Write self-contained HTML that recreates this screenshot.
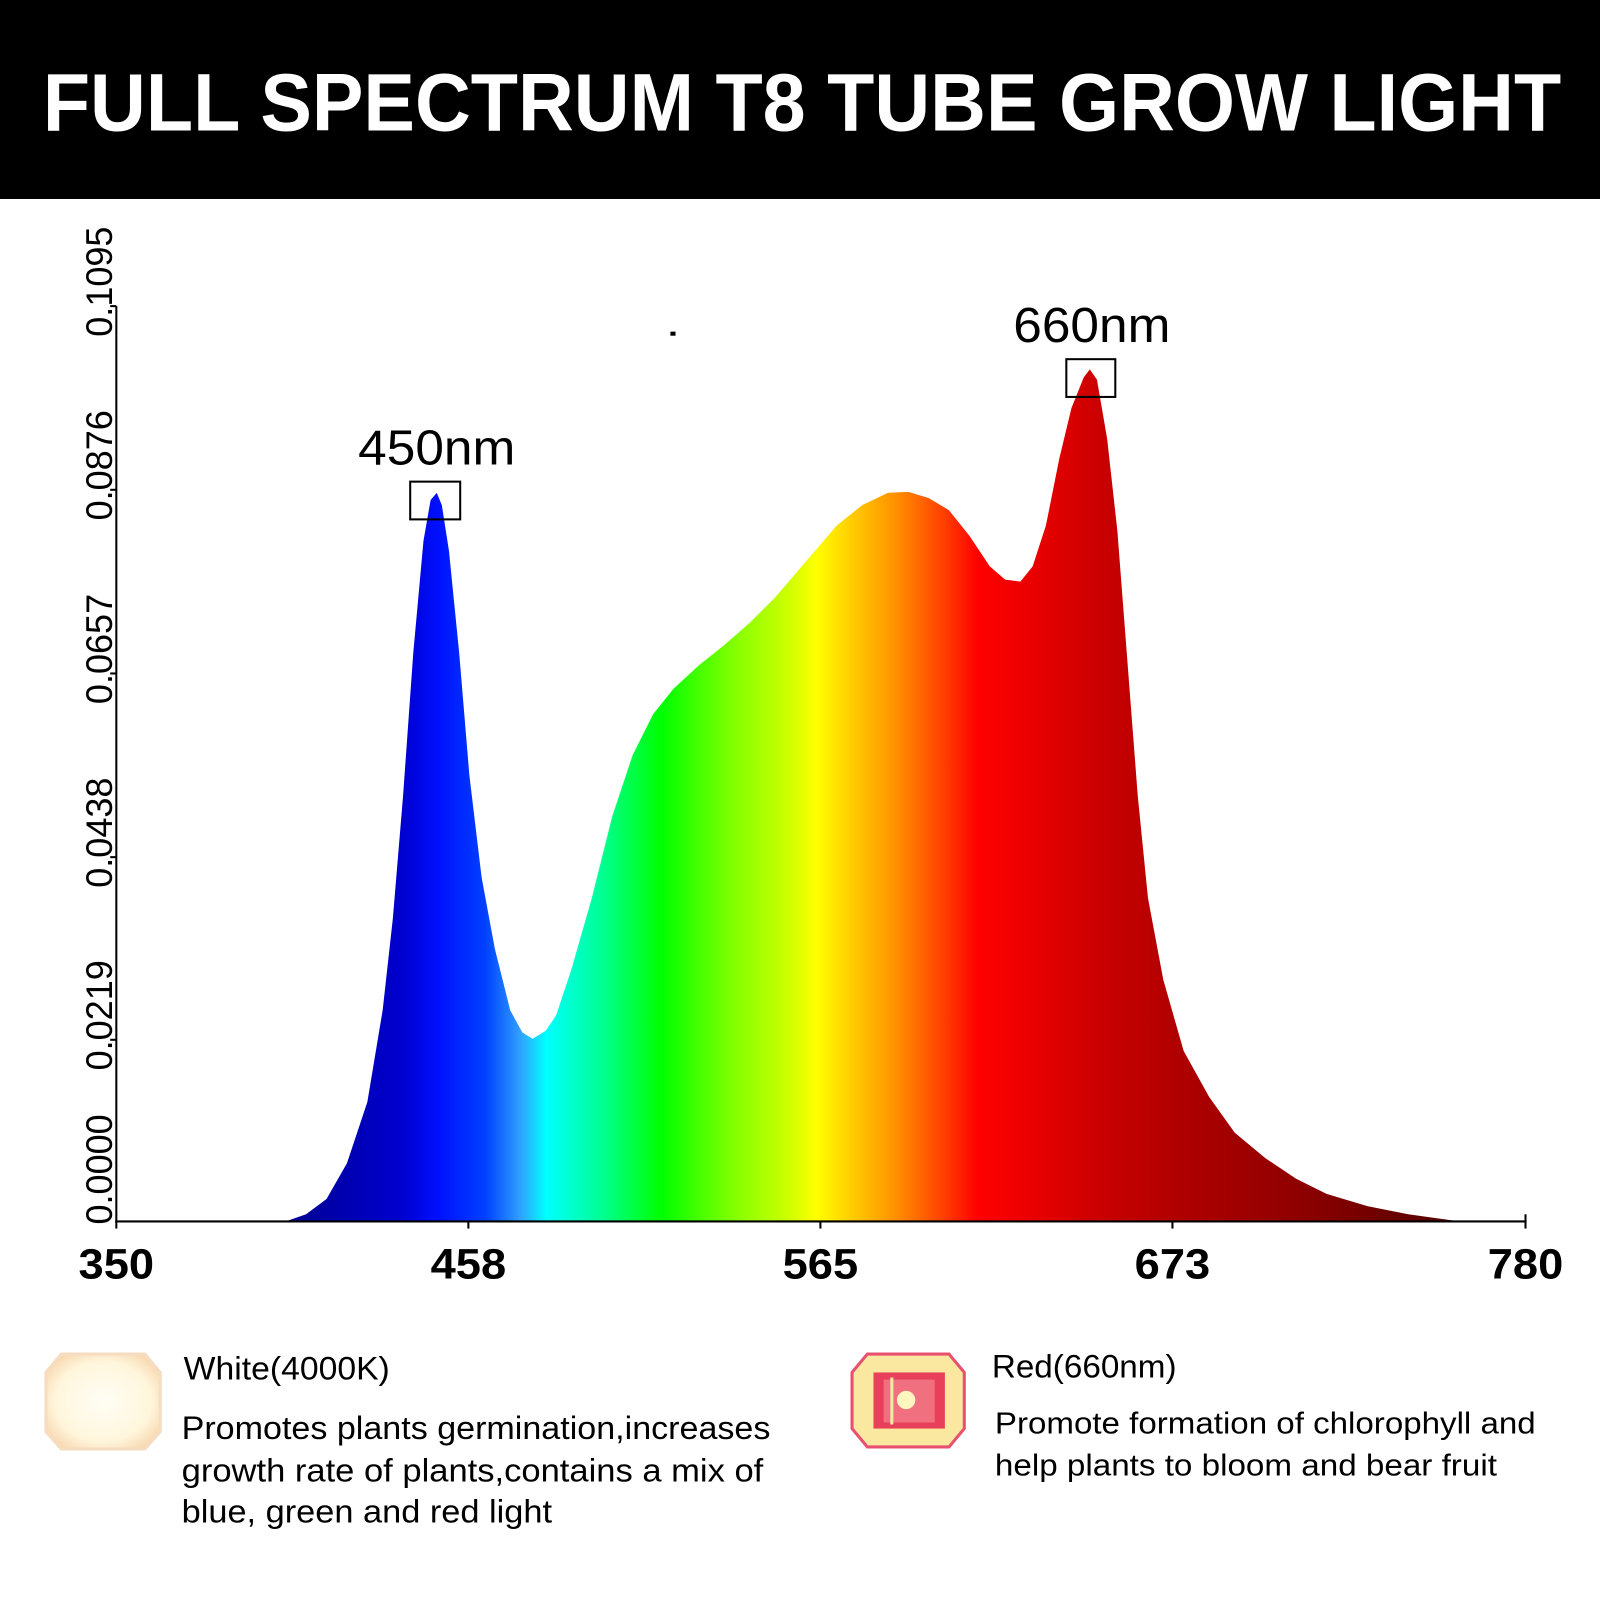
<!DOCTYPE html>
<html><head><meta charset="utf-8"><style>html,body{margin:0;padding:0;background:#fff}svg{display:block}</style></head>
<body>
<svg width="1600" height="1600" viewBox="0 0 1568 1568" xmlns="http://www.w3.org/2000/svg">
<defs>
<linearGradient id="sp" gradientUnits="userSpaceOnUse" x1="280" y1="0" x2="1430" y2="0">
<stop offset="0" stop-color="#000090"/>
<stop offset="0.1" stop-color="#0000d0"/>
<stop offset="0.13" stop-color="#0010ff"/>
<stop offset="0.17" stop-color="#0040ff"/>
<stop offset="0.2" stop-color="#30a0ff"/>
<stop offset="0.222" stop-color="#00ffff"/>
<stop offset="0.27" stop-color="#00ff90"/>
<stop offset="0.32" stop-color="#00ff00"/>
<stop offset="0.38" stop-color="#80ff00"/>
<stop offset="0.43" stop-color="#d0ff00"/>
<stop offset="0.452" stop-color="#ffff00"/>
<stop offset="0.49" stop-color="#ffc000"/>
<stop offset="0.52" stop-color="#ff9000"/>
<stop offset="0.56" stop-color="#ff4000"/>
<stop offset="0.59" stop-color="#ff0000"/>
<stop offset="0.64" stop-color="#e80000"/>
<stop offset="0.69" stop-color="#cc0000"/>
<stop offset="0.76" stop-color="#b00000"/>
<stop offset="0.86" stop-color="#900000"/>
<stop offset="1" stop-color="#500000"/>
</linearGradient>
<radialGradient id="wl" cx="0.5" cy="0.5" r="0.6"><stop offset="0" stop-color="#fffdf5"/><stop offset="0.7" stop-color="#fff6dc"/><stop offset="1" stop-color="#f8d8b0"/></radialGradient>
</defs>
<rect x="0" y="0" width="1568" height="195" fill="#000"/>
<text x="786" y="128" text-anchor="middle" font-family="Liberation Sans, sans-serif" font-size="80" font-weight="bold" fill="#fff" textLength="1488" lengthAdjust="spacingAndGlyphs">FULL SPECTRUM T8 TUBE GROW LIGHT</text>

<path fill="url(#sp)" d="M280,1197 L300,1190 L320,1175 L340,1140 L360,1080 L375,990 L385,900 L395,780 L405,640 L415,530 L422,490 L428,483 L433,495 L440,540 L450,640 L460,760 L472,860 L485,930 L500,990 L512,1012 L522,1018 L535,1010 L545,995 L560,950 L580,880 L600,800 L620,740 L640,700 L660,675 L685,652 L710,632 L735,610 L760,585 L790,550 L820,515 L845,495 L870,483 L890,482 L910,488 L930,500 L950,525 L970,555 L985,568 L1000,570 L1012,555 L1025,515 L1038,450 L1050,400 L1062,370 L1068,362 L1075,372 L1085,430 L1095,520 L1105,650 L1115,780 L1125,880 L1140,960 L1160,1030 L1185,1075 L1210,1110 L1240,1135 L1270,1155 L1300,1170 L1340,1182 L1380,1190 L1430,1197 Z"/>

<g stroke="#000" stroke-width="2" fill="none">
<line x1="114" y1="300" x2="114" y2="1198"/>
<line x1="113" y1="1197" x2="1496" y2="1197"/>
<line x1="108" y1="300" x2="114" y2="300"/><line x1="108" y1="480" x2="114" y2="480"/><line x1="108" y1="660" x2="114" y2="660"/><line x1="108" y1="840" x2="114" y2="840"/><line x1="108" y1="1019" x2="114" y2="1019"/>
<line x1="459" y1="1197" x2="459" y2="1204"/><line x1="804" y1="1197" x2="804" y2="1204"/><line x1="1149" y1="1197" x2="1149" y2="1204"/><line x1="1495" y1="1190" x2="1495" y2="1204"/><line x1="114" y1="1197" x2="114" y2="1204"/>
<rect x="402" y="472" width="49" height="37"/>
<rect x="1045" y="352" width="48" height="37"/>
</g>
<rect x="657" y="325" width="5" height="4" fill="#000"/>

<g font-family="Liberation Sans, sans-serif" font-size="36" fill="#000">
<text transform="translate(110,330) rotate(-90)" textLength="108" lengthAdjust="spacingAndGlyphs">0.1095</text>
<text transform="translate(110,510) rotate(-90)" textLength="108" lengthAdjust="spacingAndGlyphs">0.0876</text>
<text transform="translate(110,690) rotate(-90)" textLength="108" lengthAdjust="spacingAndGlyphs">0.0657</text>
<text transform="translate(110,870) rotate(-90)" textLength="108" lengthAdjust="spacingAndGlyphs">0.0438</text>
<text transform="translate(110,1049) rotate(-90)" textLength="108" lengthAdjust="spacingAndGlyphs">0.0219</text>
<text transform="translate(110,1200) rotate(-90)" textLength="108" lengthAdjust="spacingAndGlyphs">0.0000</text>
</g>
<g font-family="Liberation Sans, sans-serif" font-size="42" font-weight="bold" fill="#000" text-anchor="middle">
<text x="114" y="1253" textLength="74" lengthAdjust="spacingAndGlyphs">350</text><text x="459" y="1253" textLength="74" lengthAdjust="spacingAndGlyphs">458</text><text x="804" y="1253" textLength="74" lengthAdjust="spacingAndGlyphs">565</text><text x="1149" y="1253" textLength="74" lengthAdjust="spacingAndGlyphs">673</text><text x="1495" y="1253" textLength="74" lengthAdjust="spacingAndGlyphs">780</text>
</g>
<g font-family="Liberation Sans, sans-serif" font-size="48" fill="#000" text-anchor="middle">
<text x="428" y="455" textLength="154" lengthAdjust="spacingAndGlyphs">450nm</text>
<text x="1070" y="335" textLength="154" lengthAdjust="spacingAndGlyphs">660nm</text>
</g>

<polygon points="60,1327 142,1327 157,1345 157,1403 142,1420 60,1420 45,1403 45,1345" fill="url(#wl)" stroke="#f6dcc0" stroke-width="3"/>
<polygon points="850,1327 930,1327 945,1345 945,1400 930,1418 850,1418 835,1400 835,1345" fill="#fbe8a0" stroke="#e85070" stroke-width="3"/>
<rect x="856" y="1345" width="70" height="55" fill="#e8405a"/>
<rect x="866" y="1352" width="50" height="42" fill="#f07080"/>
<circle cx="888" cy="1372" r="9" fill="#fff6c0"/>
<line x1="874" y1="1350" x2="874" y2="1396" stroke="#fbe8a0" stroke-width="3"/>

<g font-family="Liberation Sans, sans-serif" fill="#000">
<text x="180" y="1352" font-size="32" textLength="202" lengthAdjust="spacingAndGlyphs">White(4000K)</text>
<text x="178" y="1410" font-size="32" textLength="577" lengthAdjust="spacingAndGlyphs">Promotes plants germination,increases</text>
<text x="178" y="1452" font-size="32" textLength="570" lengthAdjust="spacingAndGlyphs">growth rate of plants,contains a mix of</text>
<text x="178" y="1492" font-size="32" textLength="363" lengthAdjust="spacingAndGlyphs">blue, green and red light</text>
<text x="972" y="1350" font-size="32" textLength="181" lengthAdjust="spacingAndGlyphs">Red(660nm)</text>
<text x="975" y="1405" font-size="30" textLength="530" lengthAdjust="spacingAndGlyphs">Promote formation of chlorophyll and</text>
<text x="975" y="1446" font-size="30" textLength="492" lengthAdjust="spacingAndGlyphs">help plants to bloom and bear fruit</text>
</g>
</svg>
</body></html>
